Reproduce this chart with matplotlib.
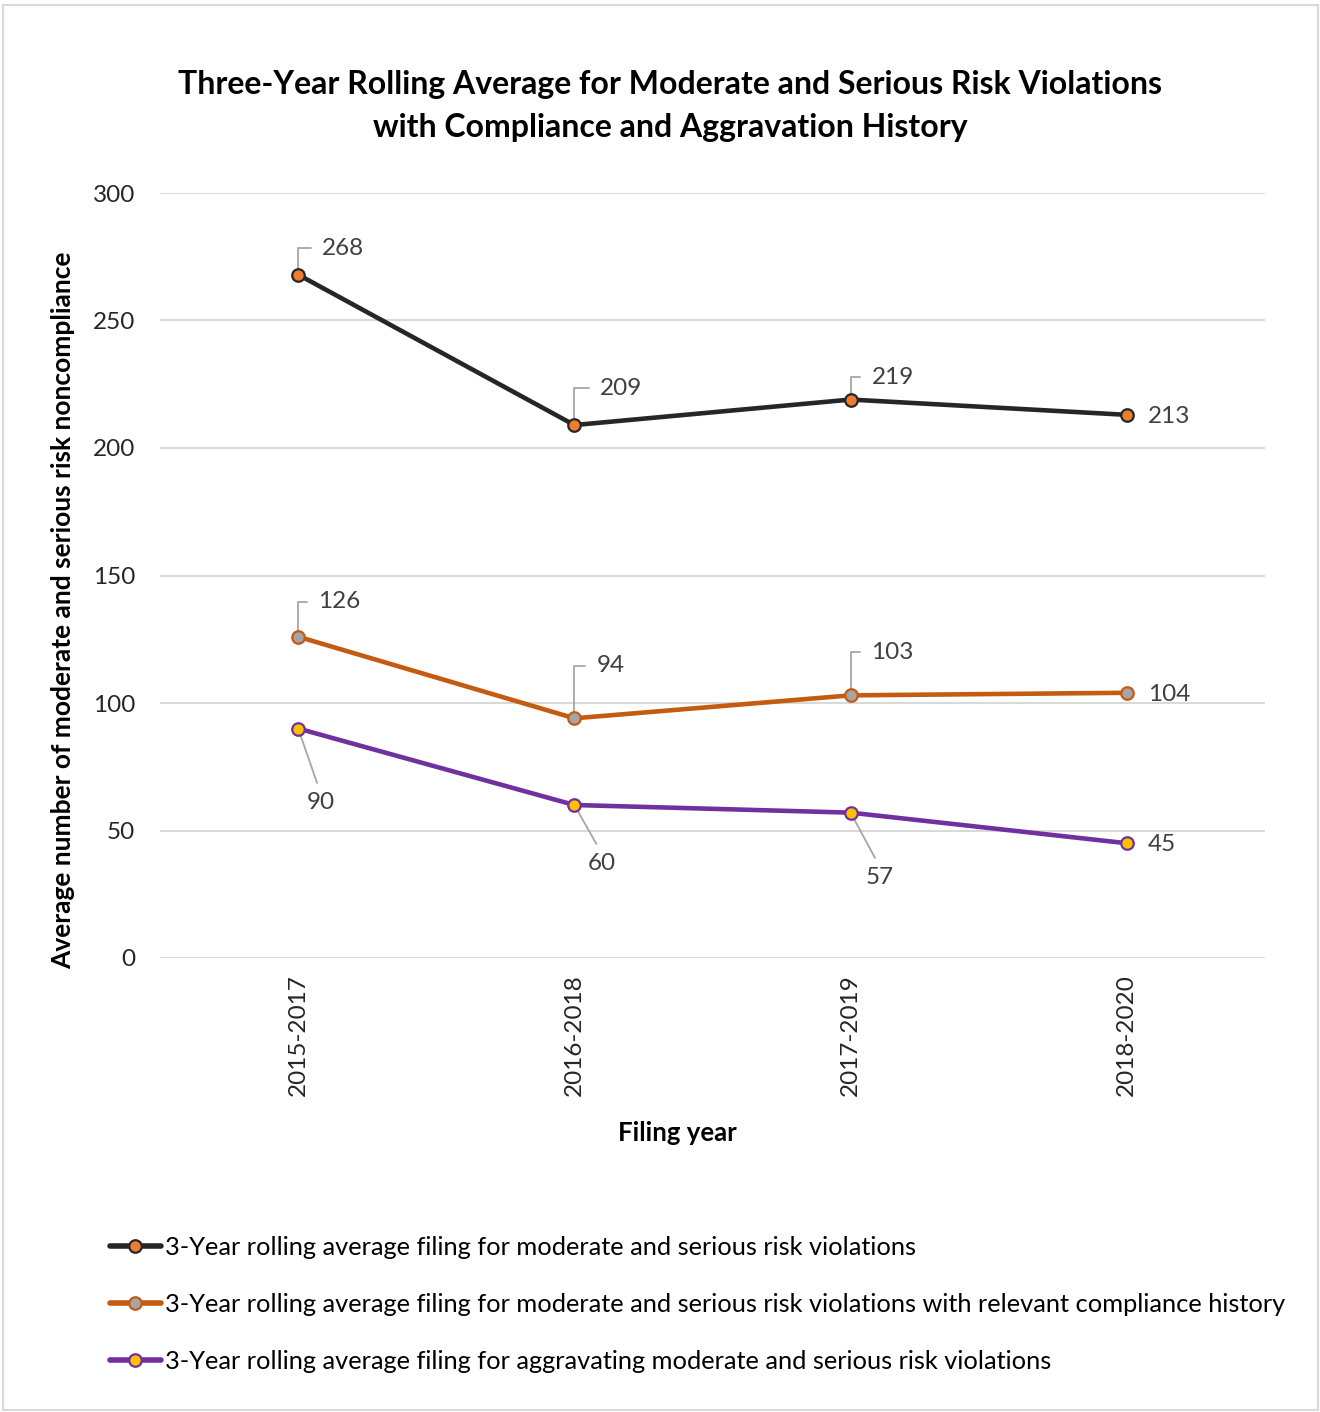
import matplotlib
matplotlib.use("Agg")
import matplotlib.pyplot as plt
from matplotlib.patches import Rectangle

plt.rcParams['font.family'] = ['Lato', 'DejaVu Sans']

categories = ["2015-2017", "2016-2018", "2017-2019", "2018-2020"]
total_vals = [268, 209, 219, 213]
compliance_vals = [126, 94, 103, 104]
aggravating_vals = [90, 60, 57, 45]

series_names = [
    "3-Year rolling average filing for moderate and serious risk violations",
    "3-Year rolling average filing for moderate and serious risk violations with relevant compliance history",
    "3-Year rolling average filing for aggravating moderate and serious risk violations",
]
title = "Three-Year Rolling Average for Moderate and Serious Risk Violations\nwith Compliance and Aggravation History"
y_label = "Average number of moderate and serious risk noncompliance"
x_label = "Filing year"
y_ticks = [0, 50, 100, 150, 200, 250, 300]

W, H = 1320, 1412
fig = plt.figure(figsize=(W / 100, H / 100), dpi=100)
fig.patch.set_facecolor("white")
fig.patches.append(Rectangle((3 / W, 2 / H), 1315 / W, 1405 / H, transform=fig.transFigure,
                             fill=False, edgecolor="#d9d9d9", linewidth=1.5))

ax = fig.add_axes([160 / W, 1 - 958 / H, 1105 / W, 765 / H])
ax.set_xlim(-0.5, len(categories) - 0.5)
ax.set_ylim(0, 300)
ax.set_yticks(y_ticks)
ax.set_yticklabels([str(t) for t in y_ticks])
ax.set_xticks(range(len(categories)))
ax.set_xticklabels(categories, rotation=90)
ax.tick_params(axis='both', length=0, labelsize=17.5, colors="#262626")
ax.tick_params(axis='y', pad=18)
ax.tick_params(axis='x', pad=11.5)
for s in ax.spines.values():
    s.set_visible(False)
ax.grid(axis='y', color="#d9d9d9", linewidth=1.5)
ax.set_axisbelow(True)

styles = [
    dict(color="#262626", mfc="#ED7D31", mec="#262626"),
    dict(color="#C55A11", mfc="#A5A5A5", mec="#C55A11"),
    dict(color="#7030A0", mfc="#FFC000", mec="#7030A0"),
]
all_vals = [total_vals, compliance_vals, aggravating_vals]
x = list(range(len(categories)))
handles = []
for vals, st, name in zip(all_vals, styles, series_names):
    h, = ax.plot(x, vals, color=st["color"], linewidth=3.3, marker='o', markersize=9,
                 markerfacecolor=st["mfc"], markeredgecolor=st["mec"], markeredgewidth=1.6,
                 solid_capstyle='round', zorder=3, label=name)
    handles.append(h)

lab_color = "#404040"
lead_color = "#a6a6a6"
fs = 17.5

# label placement: (kind, dx, dy) offsets in points
placements = [
    [("elbow", 17, 19), ("elbow", 18.5, 26.5), ("elbow", 15, 16), ("right", 15, -1.5)],
    [("elbow", 14.5, 25), ("elbow", 16, 38), ("elbow", 15, 31), ("right", 15, -1.5)],
    [("diag", 16, -53.5), ("diag", 19.5, -42), ("diag", 21, -46.5), ("right", 15, -1)],
]
for vals, pl in zip(all_vals, placements):
    for xi, (v, (kind, dx, dy)) in enumerate(zip(vals, pl)):
        if kind == "right":
            ax.annotate(str(v), (xi, v), xytext=(dx, dy), textcoords='offset points',
                        ha='left', va='center', fontsize=fs, color=lab_color, zorder=5)
        elif kind == "elbow":
            ax.annotate(str(v), (xi, v), xytext=(dx, dy), textcoords='offset points',
                        ha='left', va='center', fontsize=fs, color=lab_color, zorder=2,
                        arrowprops=dict(arrowstyle='-', color=lead_color, lw=1.3,
                                        connectionstyle="angle,angleA=180,angleB=90,rad=0",
                                        relpos=(0, 0.5), shrinkA=6, shrinkB=0))
        else:
            ax.annotate(str(v), (xi, v), xytext=(dx, dy), textcoords='offset points',
                        ha='center', va='center', fontsize=fs, color=lab_color, zorder=2,
                        arrowprops=dict(arrowstyle='-', color=lead_color, lw=1.3,
                                        relpos=(0.5, 1), shrinkA=5, shrinkB=0))

fig.text(670 / W, 1 - 106 / H, title, ha='center', va='center', fontsize=23,
         fontweight='bold', color="#000000", linespacing=1.55)
fig.text(63 / W, 1 - 610 / H, y_label, rotation=90, ha='center', va='center',
         fontsize=19, fontweight='bold', color="#000000")
fig.text(677 / W, 1 - 1133 / H, x_label, ha='center', va='center',
         fontsize=18.5, fontweight='bold', color="#000000")

leg = fig.legend(handles=handles, loc='upper left', bbox_to_anchor=(110 / W, 1 - 1236 / H),
                 frameon=False, fontsize=18.3, handlelength=2.0, handletextpad=0.15,
                 labelspacing=1.33, borderaxespad=0, borderpad=0)
for line in leg.get_lines():
    line.set_linewidth(4.0)
for t in leg.get_texts():
    t.set_color("#000000")

fig.savefig("out.png", dpi=100, facecolor="white")
